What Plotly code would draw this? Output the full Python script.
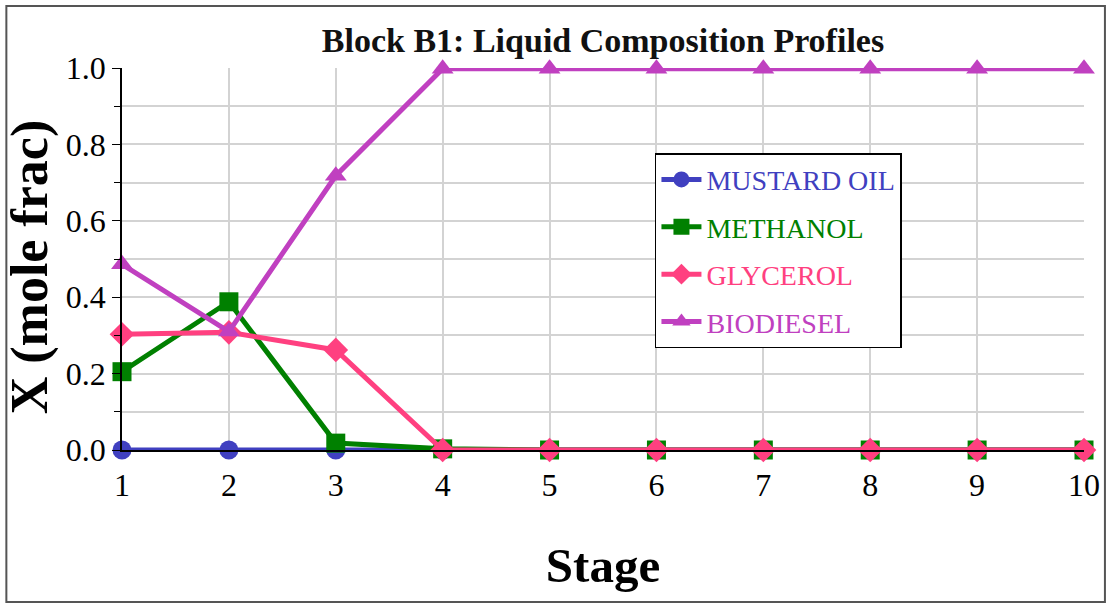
import plotly.graph_objects as go

stages = [1, 2, 3, 4, 5, 6, 7, 8, 9, 10]
mustard_oil = [0.0, 0.0, 0.0, 0.0, 0.0, 0.0, 0.0, 0.0, 0.0, 0.0]
methanol = [0.205, 0.388, 0.018, 0.003, 0.0, 0.0, 0.0, 0.0, 0.0, 0.0]
glycerol = [0.303, 0.308, 0.262, 0.0, 0.0, 0.0, 0.0, 0.0, 0.0, 0.0]
biodiesel = [0.486, 0.31, 0.718, 0.998, 0.998, 0.998, 0.998, 0.998, 0.998, 0.998]

series = [
    ("MUSTARD OIL", mustard_oil, "#4040C0", "circle"),
    ("METHANOL", methanol, "#008000", "square"),
    ("GLYCEROL", glycerol, "#FF4080", "diamond"),
    ("BIODIESEL", biodiesel, "#C040C0", "triangle-up"),
]

serif = "Liberation Serif, Times New Roman, serif"

fig = go.Figure()
for i, (name, vals, color, sym) in enumerate(series):
    fig.add_trace(go.Scatter(
        x=stages, y=vals, mode="lines+markers",
        name=f'<span style="color:{color}">{name}</span>',
        legendgroup=f"g{i}",
        line=dict(color=color, width=5),
        marker=dict(color=color, symbol=sym, size=19, line=dict(width=0)),
        cliponaxis=False,
    ))

fig.update_layout(
    width=1112, height=605,
    margin=dict(l=122, r=25, t=68, b=155),
    paper_bgcolor="white", plot_bgcolor="white",
    font=dict(family=serif, color="black"),
    title=dict(text="<b>Block B1: Liquid Composition Profiles</b>",
               x=0.5, xref="paper", xanchor="center",
               y=1 - 40 / 605, yanchor="middle",
               font=dict(size=34, family=serif, color="#111")),
    showlegend=True,
    legend=dict(x=0.554, y=0.777, xanchor="left", yanchor="top",
                bgcolor="white", bordercolor="black", borderwidth=1.5,
                font=dict(size=28, family=serif),
                tracegroupgap=8, itemwidth=40),
    xaxis=dict(range=[1, 10], tickvals=stages, ticktext=[str(s) for s in stages],
               showgrid=True, gridcolor="#D3D3D3", gridwidth=1.5,
               showline=True, linecolor="black", linewidth=1.5,
               ticks="", tickfont=dict(size=32, family=serif),
               ticklabelstandoff=6,
               zeroline=False,
               title=dict(text="<b>Stage</b>", font=dict(size=49, family=serif),
                          standoff=46)),
    yaxis=dict(range=[0, 1], dtick=0.2, tickformat=".1f",
               showgrid=True, gridcolor="#D3D3D3", gridwidth=1.5,
               showline=True, linecolor="black", linewidth=1.5,
               ticks="outside", ticklen=8, tickcolor="black",
               tickfont=dict(size=32, family=serif),
               zeroline=False,
               minor=dict(dtick=0.1, showgrid=True, gridcolor="#D3D3D3",
                          gridwidth=1.5, ticks="outside", ticklen=6,
                          tickcolor="black")),
    annotations=[dict(text="<b>X (mole frac)</b>", textangle=-90,
                      xref="paper", yref="paper",
                      x=(30 - 122) / 965, y=(450 - 267) / 382,
                      xanchor="center", yanchor="middle", showarrow=False,
                      font=dict(size=52, family=serif, color="black"))],
)

fig.add_shape(type="rect", xref="paper", yref="paper",
              x0=(6 - 122) / 965, x1=(1108 - 122) / 965,
              y0=(450 - 602) / 382, y1=(450 - 6) / 382,
              line=dict(color="#555", width=2), fillcolor="rgba(0,0,0,0)",
              layer="below")

fig.write_html("out.html",
               config={"displayModeBar": False},
               post_script="document.body.style.margin='0';document.body.style.overflow='hidden';")
